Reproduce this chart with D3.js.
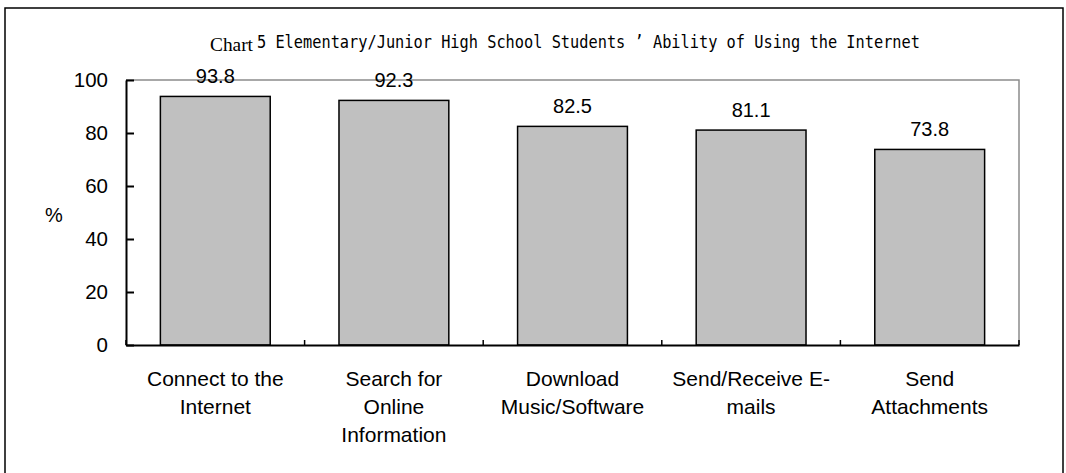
<!DOCTYPE html>
<html>
<head>
<meta charset="utf-8">
<script src="https://cdn.jsdelivr.net/npm/d3@7"></script>
<style>
  body { margin: 0; background: #fff; }
  svg { display: block; }
</style>
</head>
<body>
<span></span>
<script>
// bar chart - ability of using the internet

const categories = ["Connect to the Internet", "Search for Online Information", "Download Music/Software", "Send/Receive E-mails", "Send Attachments"];
const labelLines = [["Connect to the", "Internet"], ["Search for", "Online", "Information"], ["Download", "Music/Software"], ["Send/Receive E-", "mails"], ["Send", "Attachments"]];
const values = [93.8, 92.3, 82.5, 81.1, 73.8];
const yTicks = [0, 20, 40, 60, 80, 100];

var width = 1066;
var height = 473;
var margin = {top: 80, right: 47, bottom: 128, left: 126};

const svg = d3.select("span")
    .append("svg")
    .attr("width", width)
    .attr("height", height);

// outer frame
svg.append("rect")
    .attr("x", 5)
    .attr("y", 8)
    .attr("width", 1058)
    .attr("height", 480)
    .attr("fill", "none")
    .attr("stroke", "black")
    .attr("stroke-width", 1.5);

const xScale = d3.scaleBand()
    .domain(categories)
    .range([margin.left, width - margin.right])
    .paddingInner(0.385)
    .paddingOuter(0.1925);

const yScale = d3.scaleLinear()
    .domain([0, 100])
    .range([height - margin.bottom, margin.top]);

// gray top and right border of plot area
svg.append("path")
    .attr("d", `M${margin.left},${yScale(100)}H${width - margin.right}V${yScale(0)}`)
    .attr("fill", "none")
    .attr("stroke", "#8c8c8c")
    .attr("stroke-width", 1.5);

// bars
svg.selectAll(".bar")
    .data(values)
    .enter()
    .append("rect")
        .attr("class", "bar")
        .attr("x", (d, i) => xScale(categories[i]))
        .attr("y", d => yScale(d))
        .attr("width", xScale.bandwidth())
        .attr("height", d => yScale(0) - yScale(d))
        .attr("fill", "#c0c0c0")
        .attr("stroke", "black")
        .attr("stroke-width", 1.5);

// value labels
svg.selectAll(".val")
    .data(values)
    .enter()
    .append("text")
        .attr("class", "val")
        .attr("x", (d, i) => xScale(categories[i]) + xScale.bandwidth() / 2)
        .attr("y", d => yScale(d) - 13)
        .attr("text-anchor", "middle")
        .style("font-family", "Arial, 'Liberation Sans', sans-serif")
        .style("font-size", "20px")
        .text(d => d.toFixed(1));

// y axis
const yAxis = svg.append("g")
    .attr("transform", `translate(${margin.left}, 0)`)
    .call(d3.axisLeft(yScale).tickValues(yTicks).tickSizeInner(-8).tickSizeOuter(0).tickPadding(18));
yAxis.select(".domain").attr("stroke-width", 2);
yAxis.selectAll(".tick line").attr("stroke-width", 2);
yAxis.selectAll("text")
    .style("font-family", "Arial, 'Liberation Sans', sans-serif")
    .style("font-size", "20.5px")
    .attr("fill", "black");

// x axis
const xAxis = svg.append("g")
    .attr("transform", `translate(0, ${yScale(0)})`)
    .call(d3.axisBottom(xScale).tickSize(0).tickFormat(""));
xAxis.select(".domain").attr("stroke-width", 2);

// boundary ticks between categories
const step = xScale.step();
const edges = categories.map(c => xScale(c) - xScale.paddingOuter() * step).concat([width - margin.right]);
svg.selectAll(".xtick")
    .data(edges)
    .enter()
    .append("line")
        .attr("class", "xtick")
        .attr("x1", d => d)
        .attr("x2", d => d)
        .attr("y1", yScale(0))
        .attr("y2", yScale(0) - 5)
        .attr("stroke", "black")
        .attr("stroke-width", 1.5);

// category labels
const lab = svg.selectAll(".xlab")
    .data(labelLines)
    .enter()
    .append("text")
        .attr("class", "xlab")
        .attr("text-anchor", "middle")
        .style("font-family", "Arial, 'Liberation Sans', sans-serif")
        .style("font-size", "21px");
lab.selectAll("tspan")
    .data((d, i) => d.map(t => ({t: t, i: i})))
    .enter()
    .append("tspan")
        .attr("x", d => xScale(categories[d.i]) + xScale.bandwidth() / 2)
        .attr("y", (d, j) => yScale(0) + 41 + j * 27.8)
        .text(d => d.t);

// % label
svg.append("text")
    .attr("x", 54)
    .attr("y", 222)
    .attr("text-anchor", "middle")
    .style("font-family", "Arial, 'Liberation Sans', sans-serif")
    .style("font-size", "20px")
    .text("%");

// title
svg.append("text")
    .attr("x", 210)
    .attr("y", 51)
    .attr("textLength", 43)
    .attr("lengthAdjust", "spacingAndGlyphs")
    .style("font-family", "'Liberation Serif', 'Times New Roman', serif")
    .style("font-size", "18px")
    .text("Chart");
svg.append("text")
    .attr("x", 257)
    .attr("y", 48)
    .attr("textLength", 663)
    .attr("lengthAdjust", "spacingAndGlyphs")
    .style("font-family", "'DejaVu Sans Mono', 'Liberation Mono', monospace")
    .style("font-size", "17px")
    .text("5 Elementary/Junior High School Students ’ Ability of Using the Internet");
</script>
</body>
</html>
